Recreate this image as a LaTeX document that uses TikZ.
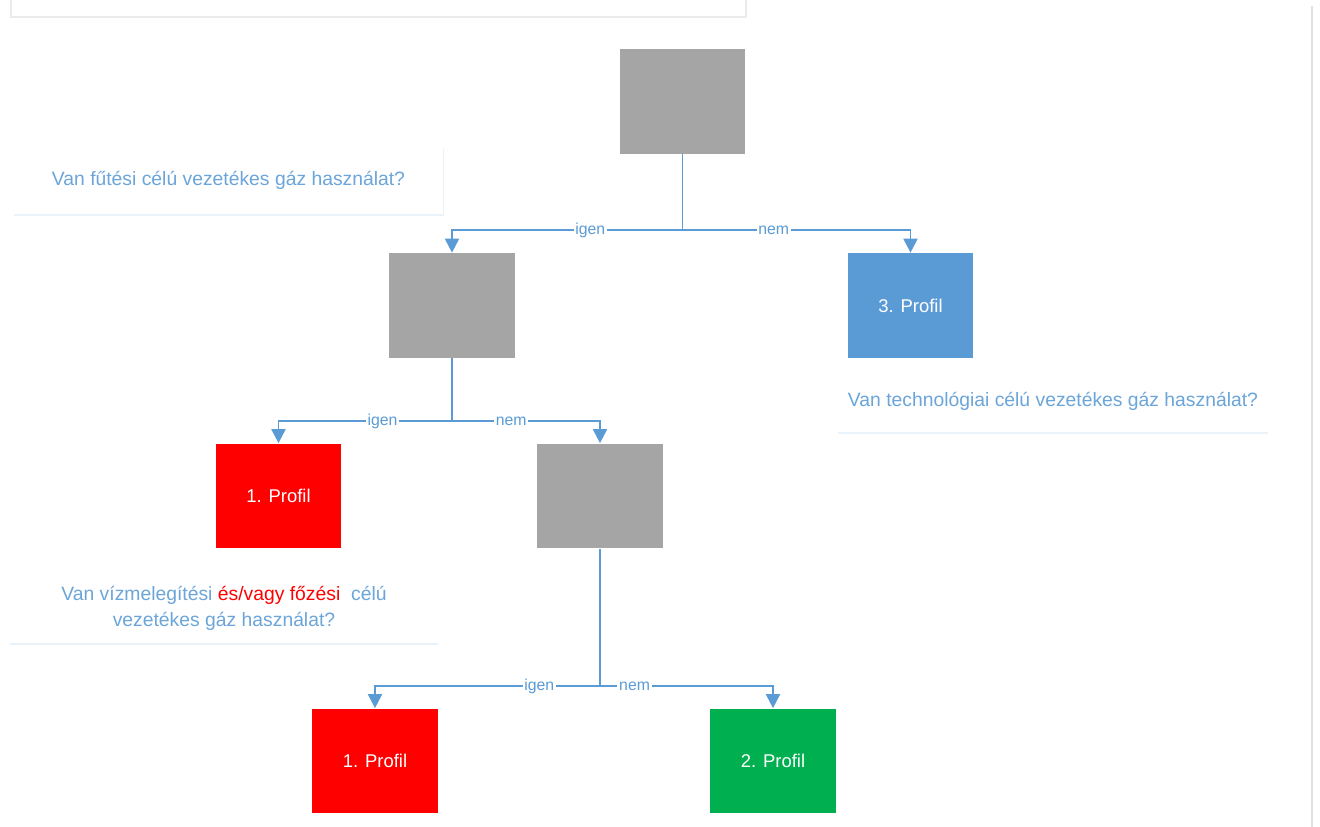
\documentclass[tikz,border=0pt]{standalone}
\usepackage{fontspec}
\setmainfont{Liberation Sans}
\usetikzlibrary{arrows.meta,shadows}
\definecolor{kek}{HTML}{5B9BD5}
\definecolor{szurke}{HTML}{A5A5A5}
\definecolor{zold}{HTML}{00B050}
\tikzset{
	doboz/.style={minimum width=2.52cm,minimum height=2.1cm,inner sep=0pt,text=white,font=\fontsize{10.5}{12}\selectfont},
	kerdes/.style={fill=white,inner sep=0pt,text=kek!90!white,align=center,font=\fontsize{11}{14.7}\selectfont,
		drop shadow={shadow xshift=0.2pt,shadow yshift=-1.3pt,fill=kek!35,opacity=.35}},
	vonal/.style={draw=kek,line width=1.1pt},
	nyil/.style={vonal,-{Triangle[width=8pt,length=8pt]}},
	felirat/.style={fill=white,inner sep=1pt,text=kek,font=\fontsize{9}{10}\selectfont}
}
\begin{document}
\begin{tikzpicture}[x=0.02cm,y=-0.02cm]
	\useasboundingbox (0,0) rectangle (1320,827);
	\draw[black!8,line width=0.8pt] (11,0)--(11,17)--(746,17)--(746,0);
	\draw[black!12,line width=0.8pt] (1312,6)--(1312,827);
	\path
	(682.5,101.5) node[doboz,fill=szurke](g1){}
	(452,305.5) node[doboz,fill=szurke](g2){}
	(910.5,305.5) node[doboz,fill=kek](p3){3. Profil}
	(278.5,496) node[doboz,fill=red](p1){1. Profil}
	(600,496) node[doboz,fill=szurke](g3){}
	(375,761) node[doboz,fill=red](p1b){1. Profil}
	(773,761) node[doboz,fill=zold](p2){2. Profil};
	\path
	(228.5,180) node[kerdes,minimum width=8.6cm,minimum height=1.36cm](q1){Van fűtési célú vezetékes gáz használat?}
	(1053,401) node[kerdes,minimum width=8.6cm,minimum height=1.24cm](q2){Van technológiai célú vezetékes gáz használat?}
	(224,608) node[kerdes,minimum width=8.56cm,minimum height=1.4cm](q3){Van vízmelegítési \textcolor{red}{és/vagy főzési}\ \ célú\\vezetékes gáz használat?};
	\coordinate (j1) at (682.5,230);
	\coordinate (j2) at (452,421);
	\coordinate (j3) at (600,686);
	\draw[vonal] (g1.south)--(j1) (g2.south)--(j2) (g3.south)--(j3);
	\draw[nyil] (j1) -| node[felirat,pos=.2]{igen} (g2.north);
	\draw[nyil] (j1) -| node[felirat,pos=.2]{nem} (p3.north);
	\draw[nyil] (j2) -| node[felirat,pos=.2]{igen} (p1.north);
	\draw[nyil] (j2) -| node[felirat,pos=.2]{nem} (g3.north);
	\draw[nyil] (j3) -| node[felirat,pos=.135]{igen} (p1b.north);
	\draw[nyil] (j3) -| node[felirat,pos=.1]{nem} (p2.north);
\end{tikzpicture}
\end{document}
